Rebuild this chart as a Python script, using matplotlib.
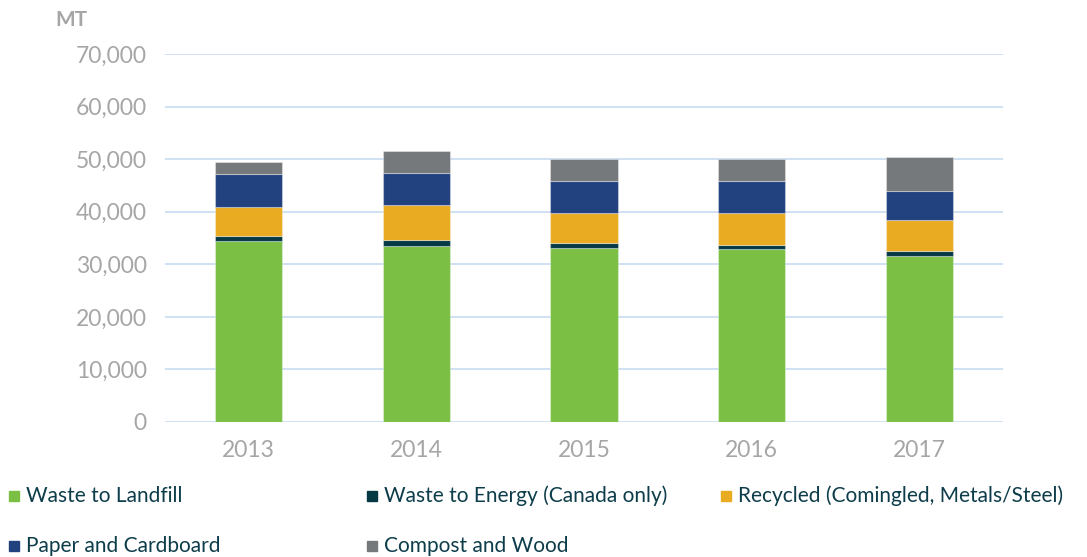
import matplotlib
matplotlib.use("Agg")
import matplotlib.pyplot as plt
from matplotlib.patches import Rectangle
from matplotlib.ticker import FuncFormatter
import numpy as np

years = ["2013", "2014", "2015", "2016", "2017"]
series_names = [
    "Waste to Landfill",
    "Waste to Energy (Canada only)",
    "Recycled (Comingled, Metals/Steel)",
    "Paper and Cardboard",
    "Compost and Wood",
]
landfill = [34490, 33540, 33160, 32850, 31580]
energy = [840, 1140, 890, 880, 890]
recycled = [5510, 6540, 5650, 5970, 5960]
paper = [6390, 6150, 6150, 6210, 5570]
compost = [2270, 4120, 4120, 4120, 6470]
colors = ["#7bbf44", "#053a44", "#e8ab22", "#21417f", "#76797b"]

fig = plt.figure(figsize=(10.87, 5.57), dpi=100)
ax = fig.add_axes([0.1518, 0.2424, 0.9227 - 0.1518, 0.903 - 0.2424])

x = np.arange(len(years))
bottom = np.zeros(len(years))
for vals, col, name in zip([landfill, energy, recycled, paper, compost], colors, series_names):
    ax.bar(x, vals, 0.4, bottom=bottom, color=col, edgecolor=(1, 1, 1, 0.35),
           linewidth=0.8, zorder=3, label=name)
    bottom += np.array(vals)

ax.set_xlim(-0.5, len(years) - 0.5)
ax.set_ylim(0, 70000)
ax.set_yticks(np.arange(0, 70001, 10000))
ax.yaxis.set_major_formatter(FuncFormatter(lambda v, p: f"{int(v):,}"))
ax.set_xticks(x)
ax.set_xticklabels(years)
ax.grid(axis="y", color="#c6dcf0", linewidth=1.2, zorder=0)
for s in ax.spines.values():
    s.set_visible(False)
ax.tick_params(axis="both", length=0, colors="#a6a6a6", labelsize=16.5)
ax.tick_params(axis="y", pad=13)
ax.tick_params(axis="x", pad=13)
for lab in ax.get_xticklabels() + ax.get_yticklabels():
    lab.set_fontfamily("Lato")

fig.text(55 / 1087, 1 - 20 / 557, "MT", fontsize=15, fontweight="bold", color="#a6a6a6",
         family="Lato", va="center", ha="left")

# legend
slots = [(9, 496), (367, 496), (721, 496), (9, 546), (367, 546)]
for (px, py), name, col in zip(slots, series_names, colors):
    fig.add_artist(Rectangle((px / 1087, 1 - (py + 5) / 557), 10 / 1087, 10 / 557,
                             transform=fig.transFigure, color=col))
    fig.text((px + 17) / 1087, 1 - py / 557, name, fontsize=15, color="#0d3d4a",
             family="Lato", va="center", ha="left")

fig.savefig("out.png", dpi=100)
